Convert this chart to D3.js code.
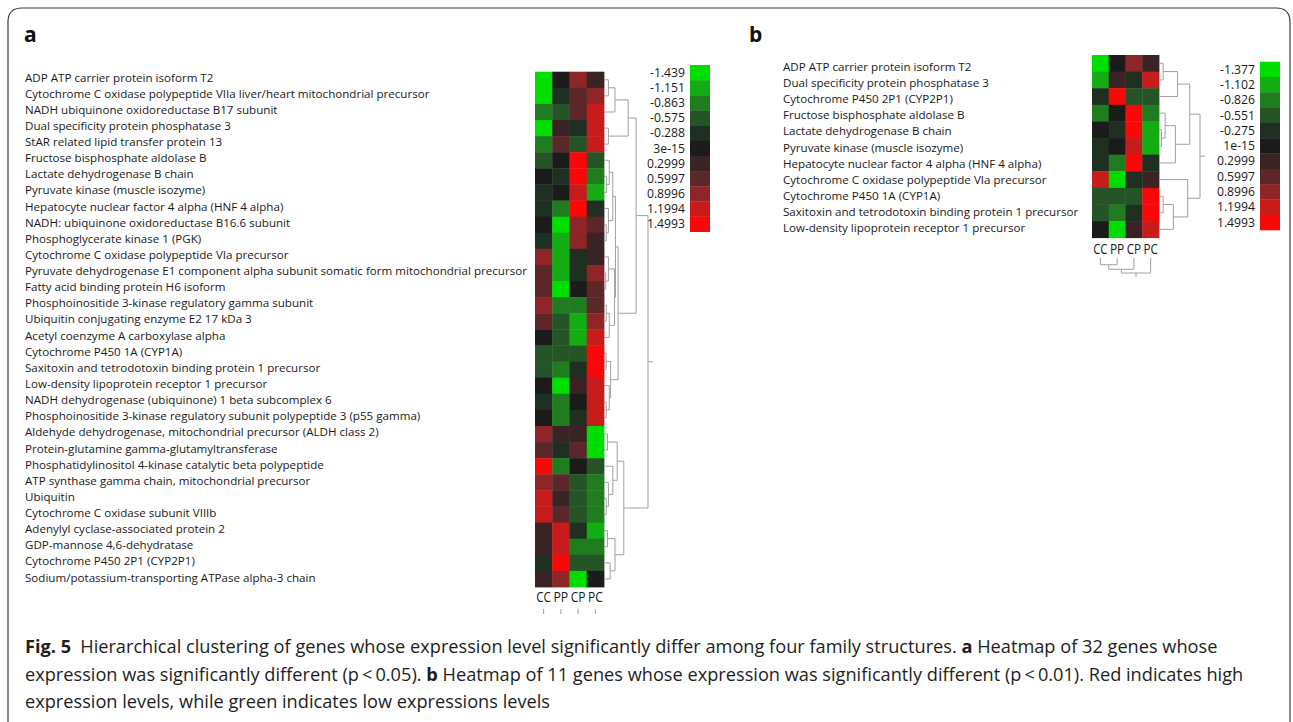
<!DOCTYPE html>
<html>
<head>
<meta charset="utf-8">
<script src="https://cdn.jsdelivr.net/npm/d3@7"></script>
<style>
  body { margin: 0; background: #fff; }
  svg { display: block; font-family: "Open Sans", "Noto Sans", sans-serif; }
</style>
</head>
<body>
<div id="viz-wrapper"></div>
<script>
var width = 1293;
var height = 722;

// sample columns
var samples = ['CC', 'PP', 'CP', 'PC'];

// panel a genes (32) and their values [CC, PP, CP, PC]
var genesA = [
  'ADP ATP carrier protein isoform T2',
  'Cytochrome C oxidase polypeptide VIIa liver/heart mitochondrial precursor',
  'NADH ubiquinone oxidoreductase B17 subunit',
  'Dual specificity protein phosphatase 3',
  'StAR related lipid transfer protein 13',
  'Fructose bisphosphate aldolase B',
  'Lactate dehydrogenase B chain',
  'Pyruvate kinase (muscle isozyme)',
  'Hepatocyte nuclear factor 4 alpha (HNF 4 alpha)',
  'NADH: ubiquinone oxidoreductase B16.6 subunit',
  'Phosphoglycerate kinase 1 (PGK)',
  'Cytochrome C oxidase polypeptide VIa precursor',
  'Pyruvate dehydrogenase E1 component alpha subunit somatic form mitochondrial precursor',
  'Fatty acid binding protein H6 isoform',
  'Phosphoinositide 3-kinase regulatory gamma subunit',
  'Ubiquitin conjugating enzyme E2 17 kDa 3',
  'Acetyl coenzyme A carboxylase alpha',
  'Cytochrome P450 1A (CYP1A)',
  'Saxitoxin and tetrodotoxin binding protein 1 precursor',
  'Low-density lipoprotein receptor 1 precursor',
  'NADH dehydrogenase (ubiquinone) 1 beta subcomplex 6',
  'Phosphoinositide 3-kinase regulatory subunit polypeptide 3 (p55 gamma)',
  'Aldehyde dehydrogenase, mitochondrial precursor (ALDH class 2)',
  'Protein-glutamine gamma-glutamyltransferase',
  'Phosphatidylinositol 4-kinase catalytic beta polypeptide',
  'ATP synthase gamma chain, mitochondrial precursor',
  'Ubiquitin',
  'Cytochrome C oxidase subunit VIIIb',
  'Adenylyl cyclase-associated protein 2',
  'GDP-mannose 4,6-dehydratase',
  'Cytochrome P450 2P1 (CYP2P1)',
  'Sodium/potassium-transporting ATPase alpha-3 chain'
];
var valuesA = [
  [-1.44, 0.0, 0.9, 0.3],
  [-1.3, -0.3, 0.6, 0.95],
  [-0.9, -0.6, 0.45, 1.2],
  [-1.3, 0.35, -0.2, 1.1],
  [-0.9, 0.5, -0.6, 1.2],
  [-0.6, 0.0, 1.5, -0.6],
  [0.0, -0.3, 1.4, -1.0],
  [-0.2, 0.05, 1.3, -1.15],
  [-0.3, -0.85, 1.5, -0.25],
  [0.0, -1.44, 0.75, 0.6],
  [-0.3, -1.2, 0.95, 0.4],
  [1.0, -1.2, -0.25, 0.3],
  [0.6, -1.2, -0.3, 0.8],
  [0.6, -1.44, 0.05, 0.65],
  [0.9, -0.8, -0.9, 0.6],
  [0.45, -0.5, -1.1, 0.95],
  [0.05, -0.45, -1.1, 1.2],
  [-0.55, -0.6, -0.5, 1.5],
  [-0.55, -0.8, -0.2, 1.5],
  [0.0, -1.3, 0.3, 1.05],
  [-0.3, -1.0, 0.1, 1.3],
  [0.05, -1.0, -0.25, 1.3],
  [0.8, 0.25, 0.4, -1.44],
  [0.7, -0.15, 0.65, -1.3],
  [1.5, -0.85, 0.0, -0.5],
  [1.0, 0.65, -0.65, -0.9],
  [1.2, 0.3, -0.5, -1.0],
  [1.1, 0.5, -0.65, -0.95],
  [0.2, 1.2, -0.3, -1.1],
  [0.35, 1.2, -0.75, -0.8],
  [-0.3, 1.5, -0.7, -0.6],
  [0.3, 0.9, -1.44, 0.05]
];

// panel b genes (11)
var genesB = [
  'ADP ATP carrier protein isoform T2',
  'Dual specificity protein phosphatase 3',
  'Cytochrome P450 2P1 (CYP2P1)',
  'Fructose bisphosphate aldolase B',
  'Lactate dehydrogenase B chain',
  'Pyruvate kinase (muscle isozyme)',
  'Hepatocyte nuclear factor 4 alpha (HNF 4 alpha)',
  'Cytochrome C oxidase polypeptide VIa precursor',
  'Cytochrome P450 1A (CYP1A)',
  'Saxitoxin and tetrodotoxin binding protein 1 precursor',
  'Low-density lipoprotein receptor 1 precursor'
];
var valuesB = [
  [-1.377, 0.05, 0.9, 0.3],
  [-1.2, 0.3, -0.2, 1.1],
  [-0.3, 1.5, -0.6, -0.55],
  [-0.7, 0.0, 1.4, -0.8],
  [0.0, -0.25, 1.35, -1.1],
  [-0.2, 0.05, 1.25, -1.2],
  [-0.25, -0.95, 1.45, -0.25],
  [1.1, -1.3, -0.25, 0.3],
  [-0.5, -0.5, -0.5, 1.5],
  [-0.5, -0.8, -0.25, 1.5],
  [0.05, -1.3, 0.2, 1.1]
];

// legend levels
var levelsA = [-1.439, -1.151, -0.863, -0.575, -0.288, 0, 0.2999, 0.5997, 0.8996, 1.1994, 1.4993];
var levelLabelsA = ['-1.439', '-1.151', '-0.863', '-0.575', '-0.288', '3e-15', '0.2999', '0.5997', '0.8996', '1.1994', '1.4993'];
var levelsB = [-1.377, -1.102, -0.826, -0.551, -0.275, 0, 0.2999, 0.5997, 0.8996, 1.1994, 1.4993];
var levelLabelsB = ['-1.377', '-1.102', '-0.826', '-0.551', '-0.275', '1e-15', '0.2999', '0.5997', '0.8996', '1.1994', '1.4993'];
var levelColors = ['#00de00', '#13ad13', '#1f7d1f', '#255526', '#1f2f21', '#1b1b1b', '#392324', '#5b2728', '#8e2526', '#c81c1c', '#f80808'];

// dendrograms: [height, left, right], leaves are row/column indexes
var treeA = [1.0,
  [0.73,
    [0.55, [0.25, [0.1, 0, 1], 2], [0.1, 3, 4]],
    [0.32,
      [0.26,
        [0.2, [0.12, 5, [0.06, 6, 7]], [0.1, 8, [0.05, 9, 10]]],
        [0.24, [0.1, 11, [0.04, 12, 13]], [0.12, [0.05, 14, 15], 16]]],
      [0.15, [0.05, 17, 18], [0.12, 19, [0.05, 20, 21]]]]],
  [0.45,
    [0.3, [0.08, 22, 23], [0.2, 24, [0.1, 25, [0.05, 26, 27]]]],
    [0.25, [0.08, 28, 29], [0.14, 30, 31]]]];
var treeB = [1.0,
  [0.75, [0.45, [0.1, 0, 1], 2], [0.4, [0.15, 3, [0.06, 4, 5]], 6]],
  [0.7, 7, [0.35, [0.1, 8, 9], 10]]];
var colTreeA = [1.0, [0.6, 0, 1], [0.5, 2, 3]];
var colTreeB = [1.0, [0.75, [0.45, 0, 1], 2], 3];

var svg = d3.select('#viz-wrapper').append('svg').attr('width', width).attr('height', height);

// frame
svg.append('path')
  .attr('d', 'M8,' + height + 'V22Q8,8 22,8H1276Q1290,8 1290,22V' + height)
  .attr('fill', 'none').attr('stroke', '#3a3a3a').attr('stroke-width', 1.2);

function nearestColor(levels) {
  var mids = d3.pairs(levels).map(function(p) { return (p[0] + p[1]) / 2; });
  return d3.scaleThreshold().domain(mids).range(levelColors);
}

function drawTree(g, tree, leafPos, hScale, horizontal) {
  function walk(n) {
    if (typeof n === 'number') return { p: leafPos(n), q: hScale(0) };
    var a = walk(n[1]), b = walk(n[2]);
    var q = hScale(n[0]);
    var d = horizontal
      ? 'M' + a.q + ',' + a.p + 'H' + q + 'V' + b.p + 'H' + b.q
      : 'M' + a.p + ',' + a.q + 'V' + q + 'H' + b.p + 'V' + b.q;
    g.append('path').attr('d', d).attr('fill', 'none').attr('stroke', '#a0a0a0').attr('stroke-width', 1);
    return { p: (a.p + b.p) / 2, q: q };
  }
  return walk(tree);
}

function panel(opt) {
  var g = svg.append('g');
  var color = nearestColor(opt.levels);
  var x = d3.scaleBand().domain(d3.range(samples.length)).range(opt.hx);
  var y = d3.scaleBand().domain(d3.range(opt.genes.length)).range(opt.hy);
  var ly = d3.scalePoint().domain(d3.range(opt.genes.length)).range(opt.labelY);

  g.append('text').attr('x', opt.letterX).attr('y', 42)
    .attr('font-size', 21).attr('font-weight', 'bold').attr('fill', '#111').text(opt.letter);

  g.selectAll('.gene').data(opt.genes).enter().append('text')
    .attr('x', opt.labelX).attr('y', function(d, i) { return ly(i); })
    .attr('dy', '0.35em').attr('font-size', 11.6).attr('fill', '#1a1a1a')
    .text(function(d) { return d; });

  opt.values.forEach(function(row, i) {
    g.selectAll(null).data(row).enter().append('rect')
      .attr('x', function(d, j) { return x(j); })
      .attr('y', y(i))
      .attr('width', x.bandwidth() + 0.4)
      .attr('height', y.bandwidth() + 0.4)
      .attr('fill', function(d) { return color(d); });
  });

  // sample labels, squeezed to fit the narrow columns
  g.selectAll('.sample').data(samples).enter().append('text')
    .attr('x', function(d, j) { return x(j) + x.bandwidth() / 2; })
    .attr('y', opt.sampleY).attr('text-anchor', 'middle').attr('dy', '0.35em')
    .attr('font-size', 14).attr('fill', '#1a1a1a')
    .attr('textLength', x.bandwidth() * 0.86).attr('lengthAdjust', 'spacingAndGlyphs')
    .text(function(d) { return d; });

  // row dendrogram
  var hx = d3.scaleLinear().domain([0, 1]).range([opt.hx[1], opt.treeX]);
  var root = drawTree(g, opt.tree, function(i) { return y(i) + y.bandwidth() / 2; }, hx, true);
  g.append('path').attr('d', 'M' + root.q + ',' + root.p + 'h5')
    .attr('stroke', '#a0a0a0').attr('fill', 'none');

  // column dendrogram
  var cg = g.append('g');
  if (opt.colClip) {
    var id = 'clip' + opt.letter;
    svg.append('clipPath').attr('id', id).append('rect')
      .attr('x', 0).attr('y', 0).attr('width', width).attr('height', opt.colClip);
    cg.attr('clip-path', 'url(#' + id + ')');
  }
  var hy = d3.scaleLinear().domain([0, 1]).range(opt.colY);
  var croot = drawTree(cg, opt.colTree, function(j) { return x(j) + x.bandwidth() / 2; }, hy, false);
  cg.append('path').attr('d', 'M' + croot.p + ',' + croot.q + 'v4')
    .attr('stroke', '#a0a0a0').attr('fill', 'none');

  // legend
  var lg = d3.scaleBand().domain(d3.range(levelColors.length)).range(opt.legY);
  g.selectAll('.box').data(levelColors).enter().append('rect')
    .attr('x', opt.legX).attr('y', function(d, i) { return lg(i); })
    .attr('width', 20).attr('height', lg.bandwidth() + 0.3)
    .attr('fill', function(d) { return d; });
  g.selectAll('.lev').data(opt.levelLabels).enter().append('text')
    .attr('x', opt.legX - 5).attr('y', function(d, i) { return lg(i) + lg.bandwidth() / 2; })
    .attr('dy', '0.35em').attr('text-anchor', 'end').attr('font-size', 12.2).attr('fill', '#1a1a1a')
    .text(function(d) { return d; });
}

panel({
  letter: 'a', letterX: 24, genes: genesA, values: valuesA, levels: levelsA, levelLabels: levelLabelsA,
  hx: [535, 604], hy: [71.7, 587], labelX: 25, labelY: [77.5, 577.5], sampleY: 597,
  tree: treeA, treeX: 648, colTree: colTreeA, colY: [609, 630], colClip: 614,
  legX: 690, legY: [65, 231.7]
});

panel({
  letter: 'b', letterX: 749, genes: genesB, values: valuesB, levels: levelsB, levelLabels: levelLabelsB,
  hx: [1092, 1159], hy: [55, 237.7], labelX: 783, labelY: [67, 228], sampleY: 249,
  tree: treeB, treeX: 1200, colTree: colTreeB, colY: [258, 273],
  legX: 1260, legY: [61.7, 230]
});

// caption
var capLines = [
  [['Fig. 5', true], ['\u2002Hierarchical clustering of genes whose expression level significantly differ among four family structures. ', false], ['a', true], [' Heatmap of 32 genes whose', false]],
  [['expression was significantly different (p\u2009<\u20090.05). ', false], ['b', true], [' Heatmap of 11 genes whose expression was significantly different (p\u2009<\u20090.01). Red indicates high', false]],
  [['expression levels, while green indicates low expressions levels', false]]
];
var capY = d3.scalePoint().domain(d3.range(capLines.length)).range([653, 708]);
var cap = svg.append('g');
capLines.forEach(function(line, i) {
  var t = cap.append('text').attr('x', 25).attr('y', capY(i))
    .attr('font-size', 18.2).attr('fill', '#1e1e1e');
  line.forEach(function(part) {
    t.append('tspan').attr('font-weight', part[1] ? 'bold' : 'normal').text(part[0]);
  });
});
</script>
</body>
</html>
